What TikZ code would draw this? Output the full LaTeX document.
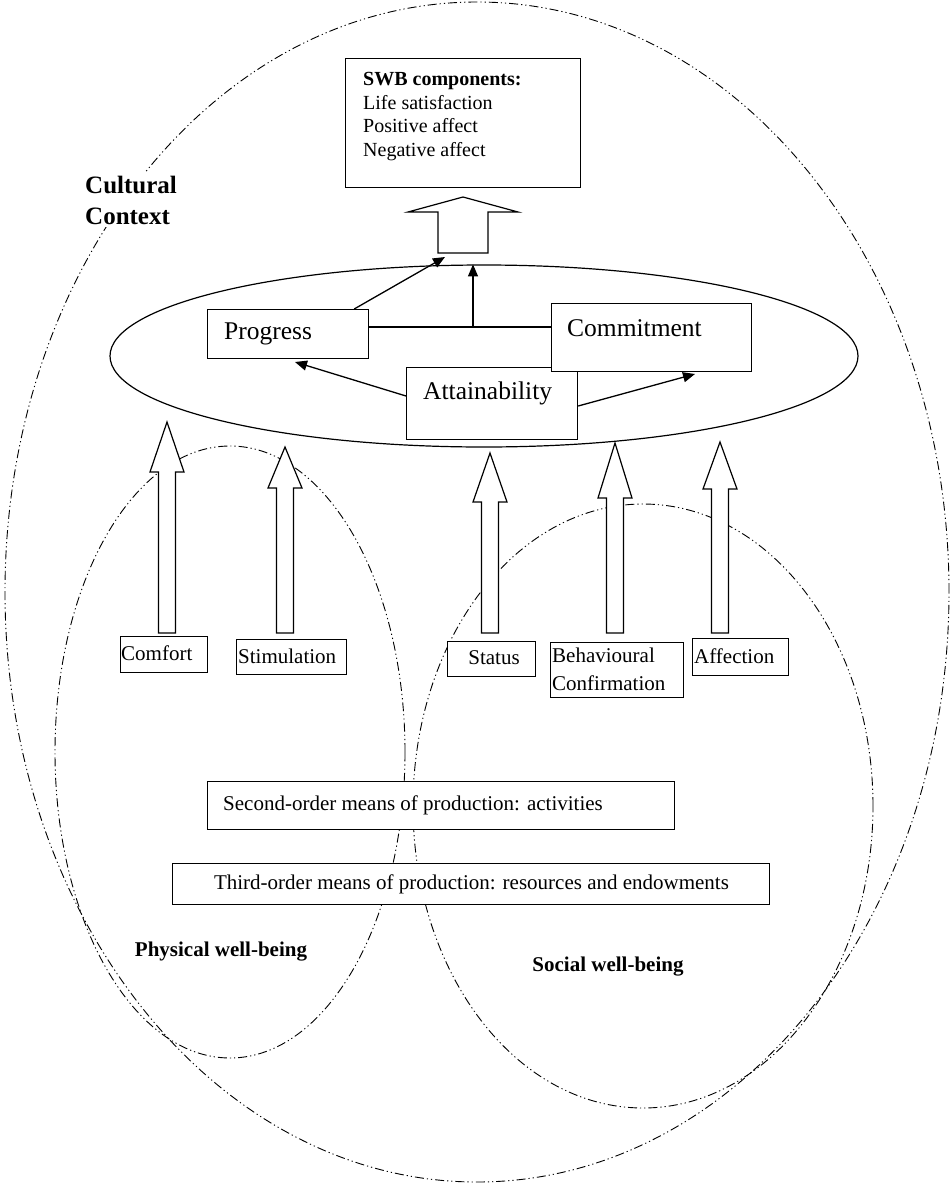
\documentclass[tikz,border=0pt]{standalone}
\usepackage{fontspec}
\setmainfont{Liberation Serif}
\usetikzlibrary{arrows.meta,calc,shapes.geometric}
\newcommand\blockup[4]{\draw[barrow] (#1-8.5,#4) -- (#1-8.5,#3) -- (#1-17,#3) -- (#1,#2) -- (#1+17,#3) -- (#1+8.5,#3) -- (#1+8.5,#4) -- cycle;}
\begin{document}
\begin{tikzpicture}[x=1pt,y=-1pt,
  box/.style={draw, line width=1.2pt, fill=white, inner sep=0pt, anchor=north west},
  ddot/.style={line width=0.9pt, dash pattern=on 9pt off 3pt on 1.2pt off 3pt on 1.2pt off 3pt},
  oval/.style={ellipse, inner sep=0pt},
  arr/.style={line width=1.3pt, -{Triangle[length=12pt,width=10pt]}},
  lbl/.style={font=\fontsize{21}{24}\selectfont, inner sep=0pt, anchor=west},
  bigtxt/.style={font=\fontsize{25.5}{30}\selectfont, inner sep=0pt, anchor=west},
  wb/.style={font=\bfseries\fontsize{21}{24}\selectfont, inner sep=0pt},
  barrow/.style={draw, line width=1.2pt, fill=white, line join=miter}
]
\useasboundingbox (0,0) rectangle (950,1189);
\fill[white] (0,0) rectangle (950,1189);

% dash-dot ellipses
\node[oval, ddot, draw, minimum width=944pt, minimum height=1180pt] (outer) at (477,592) {};
\node[oval, ddot, draw, minimum width=350pt, minimum height=612pt] (phys) at (230,752) {};
\node[oval, ddot, draw, minimum width=460pt, minimum height=604pt] (soc) at (643,806) {};

\node[font=\bfseries\fontsize{25}{31}\selectfont, align=left, fill=white, anchor=west, inner sep=3pt] (cc) at (82,200) {Cultural\\Context};

% SWB box
\node[box, minimum width=235pt, minimum height=129pt] (swb) at (345,58) {};
\node[anchor=north west, align=left, font=\fontsize{20}{23.7}\selectfont, inner sep=0pt] (swbt) at (363,72) {\textbf{SWB components:}\\Life satisfaction\\Positive affect\\Negative affect};

% big block arrow
\draw[barrow] (438,253) -- (438,212) -- (408,212) -- (463,197) -- (518,212) -- (488,212) -- (488,253) -- cycle;

% central ellipse
\node[oval, draw, line width=1.2pt, minimum width=748pt, minimum height=182pt] (ell) at (484,356) {};

% boxes
\node[box, minimum width=161pt, minimum height=49pt] (prog) at (207,309) {};
\node[bigtxt] (progt) at (224,333.5) {Progress};
\node[box, minimum width=171pt, minimum height=72pt] (att) at (406,367) {};
\node[bigtxt] (attt) at (423,393) {Attainability};
\node[box, minimum width=200pt, minimum height=68pt] (com) at (551,303) {};
\node[bigtxt] (comt) at (567,328) {Commitment};

% connectors
\coordinate (j) at (473,327);
\draw[line width=1.3pt] (prog.east |- j) -- (com.west |- j);
\draw[arr] (j) -- (j |- ell.north);
\coordinate (pa) at (445,257);
\draw[arr] ($(prog.north east)+(-15,0)$) -- (pa);
\coordinate (tp) at (295,362);
\draw[arr] ($(att.north west)+(0,29)$) -- (tp);
\coordinate (tc) at (695,374);
\draw[arr] ($(att.north east)+(0,39)$) -- (tc);

% block arrows
\blockup{167}{422}{472}{633}
\blockup{285}{447}{488}{633}
\blockup{490}{453}{502}{633}
\blockup{615}{443}{498}{633}
\blockup{720}{442}{489}{633}

% label boxes
\node[box, minimum width=87pt, minimum height=36pt] (comf) at (120,636) {};
\node[lbl] (comft) at (121,653) {Comfort};
\node[box, minimum width=110pt, minimum height=35pt] (stim) at (236,639) {};
\node[lbl] (stimt) at (238,656) {Stimulation};
\node[box, minimum width=88pt, minimum height=35pt] (stat) at (447,641) {};
\node[lbl, anchor=center] (statt) at (494,658) {Status};
\node[box, minimum width=133pt, minimum height=55pt] (beh) at (550,642) {};
\node[lbl, anchor=north west, align=left, font=\fontsize{21}{28}\selectfont] (beht) at (552,648) {Behavioural\\Confirmation};
\node[box, minimum width=96pt, minimum height=37pt] (aff) at (692,638) {};
\node[lbl] (afft) at (694,656) {Affection};

% means of production
\node[box, minimum width=467pt, minimum height=48pt] (sec) at (207,781) {};
\node[lbl] (sect) at (223,805) {Second-order means of production: activities};
\node[box, minimum width=597pt, minimum height=41pt] (thr) at (172,863) {};
\node[lbl, anchor=center] (thrt) at (471.5,884) {Third-order means of production: resources and endowments};

\node[wb] (pw) at (221,952) {Physical well-being};
\node[wb] (sw) at (608,967) {Social well-being};
\end{tikzpicture}
\end{document}
